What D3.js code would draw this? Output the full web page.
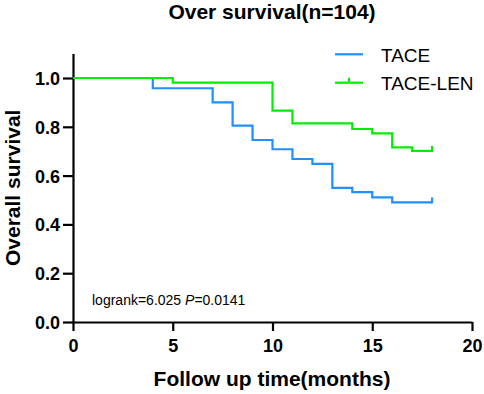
<!DOCTYPE html>
<html>
<head>
<meta charset="utf-8">
<script src="https://cdn.jsdelivr.net/npm/d3@7"></script>
<style>
html,body{margin:0;padding:0;background:#fff;}
svg{display:block;font-family:"Liberation Sans",Arial,Helvetica,sans-serif;}
</style>
</head>
<body>
<svg id="chart" width="484" height="394"></svg>
<script>
// Data
const taceTimes = [0, 4, 7, 8, 9, 10, 11, 12, 13, 14, 15, 16, 18];
const taceSurv  = [1.0, 0.958, 0.90, 0.805, 0.746, 0.708, 0.668, 0.648, 0.55, 0.532, 0.511, 0.49, 0.49];
const lenTimes  = [0, 5, 10, 11, 14, 15, 16, 17, 18];
const lenSurv   = [1.0, 0.981, 0.866, 0.814, 0.791, 0.773, 0.716, 0.701, 0.701];
const taceCensor = [18];
const lenCensor  = [18];
const seriesNames = ["TACE", "TACE-LEN"];
const xTicks = [0, 5, 10, 15, 20];
const yTicks = [0.0, 0.2, 0.4, 0.6, 0.8, 1.0];
const titleText = "Over survival(n=104)";
const xTitle = "Follow up time(months)";
const yTitle = "Overall survival";

const colors = ["#1E90FF", "#00EE00"];

const svg = d3.select("#chart");
const x = d3.scaleLinear().domain([0, 20]).range([73, 472]);
const y = d3.scaleLinear().domain([0, 1.1]).range([322, 53.6]);

// Title
svg.append("text").attr("x", 272).attr("y", 18.5).attr("text-anchor", "middle")
  .attr("font-size", 21).attr("font-weight", "bold").text(titleText);

// Axes
const xAxis = svg.append("g").attr("transform", `translate(0,${y(0)})`)
  .call(d3.axisBottom(x).tickValues(xTicks).tickSize(9).tickSizeOuter(0).tickFormat(d3.format("d")));
const yAxis = svg.append("g").attr("transform", `translate(${x(0)},0)`)
  .call(d3.axisLeft(y).tickValues(yTicks).tickSize(10).tickSizeOuter(0).tickFormat(d3.format(".1f")));
[xAxis, yAxis].forEach(g => {
  g.select(".domain").attr("stroke", "#000").attr("stroke-width", 2.2);
  g.selectAll(".tick line").attr("stroke", "#000").attr("stroke-width", 2.2);
  g.selectAll(".tick text").attr("font-size", 18).attr("font-weight", "bold")
    .attr("font-family", "Liberation Sans, Arial, sans-serif").attr("fill", "#000");
});
xAxis.selectAll(".tick text").attr("dy", "0.71em").attr("y", 17);
yAxis.selectAll(".tick text").attr("x", -13).attr("dy", "0.36em");

// Axis titles
svg.append("text").attr("x", 272).attr("y", 386).attr("text-anchor", "middle")
  .attr("font-size", 21).attr("font-weight", "bold").text(xTitle);
svg.append("text").attr("transform", `translate(20,${y(0.55)}) rotate(-90)`)
  .attr("text-anchor", "middle").attr("font-size", 21).attr("font-weight", "bold").text(yTitle);

// Curves
const line = d3.line().x(d => x(d[0])).y(d => y(d[1])).curve(d3.curveStepAfter);
const series = [
  {times: taceTimes, surv: taceSurv, censor: taceCensor, color: colors[0]},
  {times: lenTimes, surv: lenSurv, censor: lenCensor, color: colors[1]}
];
series.forEach(s => {
  const pts = s.times.map((t, i) => [t, s.surv[i]]);
  svg.append("path").datum(pts).attr("d", line).attr("fill", "none")
    .attr("stroke", s.color).attr("stroke-width", 2.2);
  s.censor.forEach(t => {
    let idx = 0;
    s.times.forEach((tt, i) => { if (tt <= t) idx = i; });
    const v = s.surv[idx];
    svg.append("line").attr("x1", x(t)).attr("x2", x(t))
      .attr("y1", y(v) + 1).attr("y2", y(v) - 5)
      .attr("stroke", s.color).attr("stroke-width", 2.2);
  });
});

// Legend
const legY = [54.3, 82.7];
seriesNames.forEach((name, i) => {
  svg.append("line").attr("x1", 335).attr("x2", 363).attr("y1", legY[i]).attr("y2", legY[i])
    .attr("stroke", colors[i]).attr("stroke-width", 2.2);
  if (i === 1) {
    svg.append("line").attr("x1", 349).attr("x2", 349).attr("y1", legY[i]).attr("y2", legY[i] - 5)
      .attr("stroke", colors[i]).attr("stroke-width", 2.2);
  }
  svg.append("text").attr("x", 381).attr("y", legY[i] + 7.5).attr("font-size", 19)
    .attr("fill", "#000").text(name);
});

// Logrank annotation
const ann = svg.append("text").attr("x", 92).attr("y", 305).attr("font-size", 14).attr("fill", "#000");
ann.append("tspan").text("logrank=6.025 ");
ann.append("tspan").attr("font-style", "italic").text("P");
ann.append("tspan").text("=0.0141");
</script>
</body>
</html>
